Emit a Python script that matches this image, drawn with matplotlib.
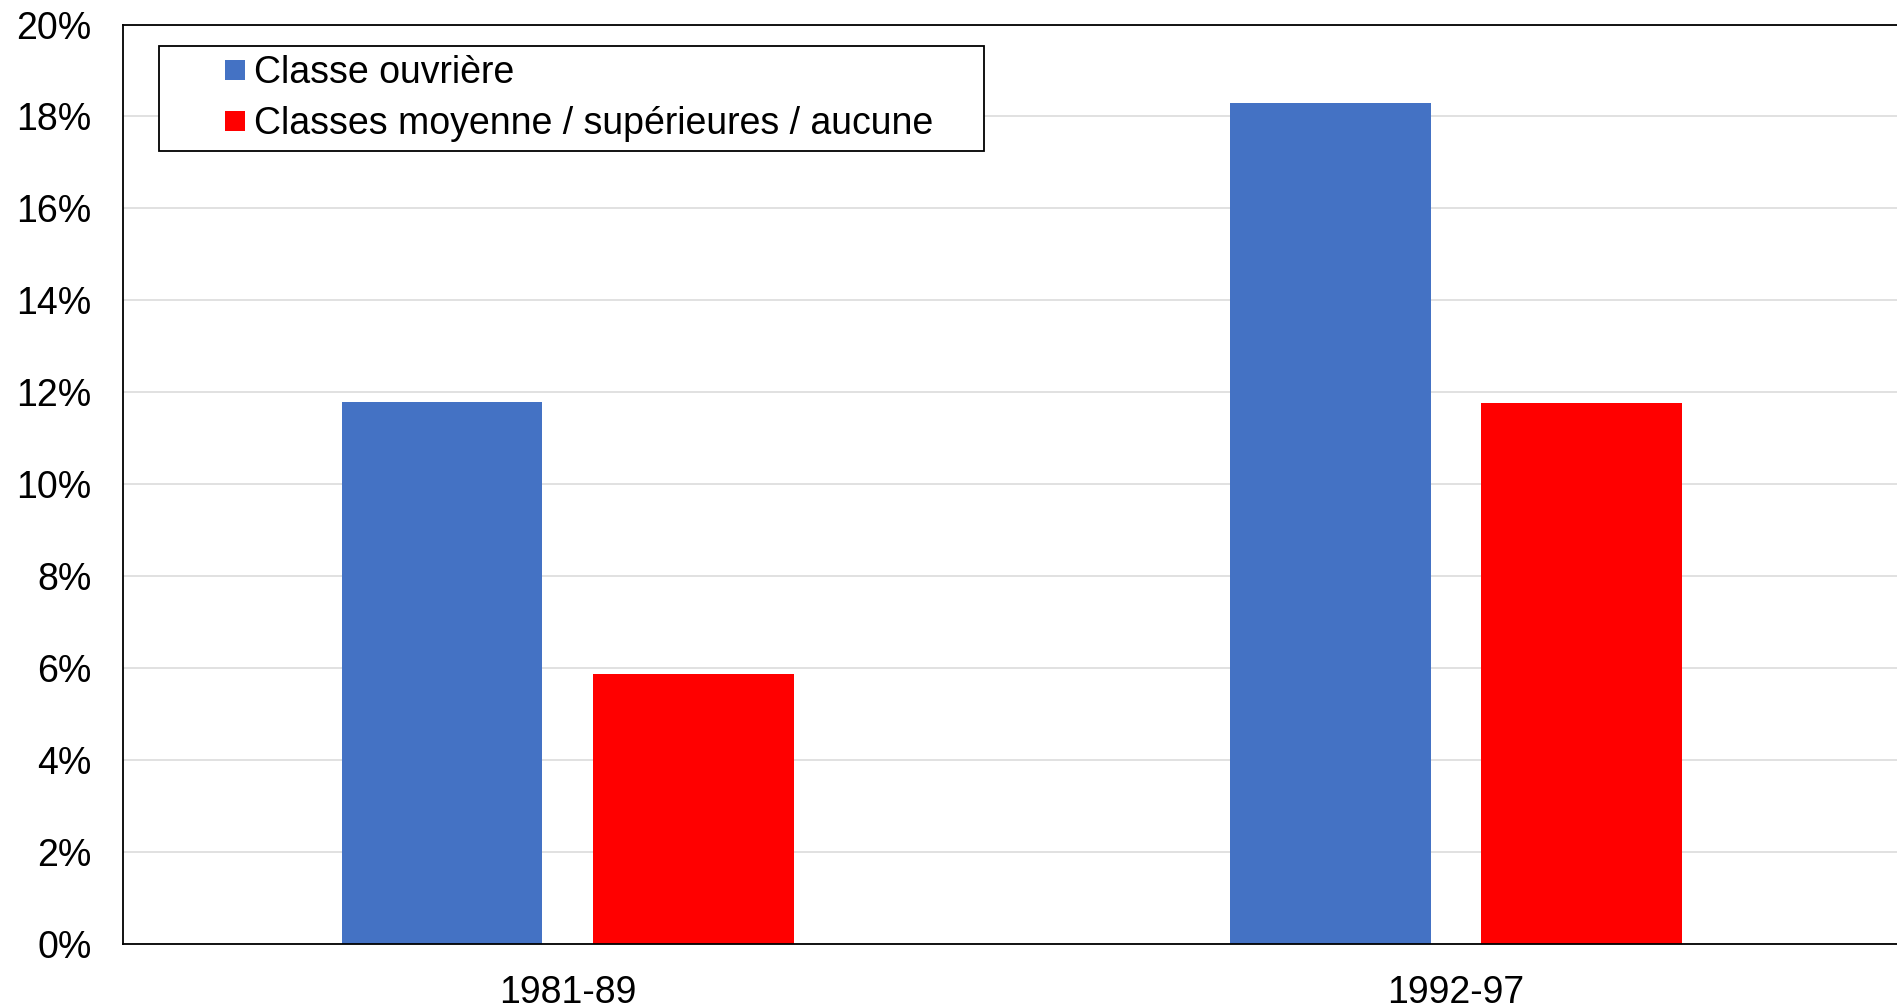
import numpy as np
import matplotlib
matplotlib.use("Agg")
import matplotlib.pyplot as plt
from matplotlib.lines import Line2D
from matplotlib.ticker import FuncFormatter

plt.rcParams['font.family'] = ['Liberation Sans', 'DejaVu Sans']

# data
periods = ['1981-89', '1992-97']
series_names = ['Classe ouvrière', 'Classes moyenne / supérieures / aucune']
ouvriere = [11.8, 18.3]
moyenne = [5.87, 11.76]
colors = ['#4472C4', '#FF0000']

fs = 27

fig = plt.figure(figsize=(18.97, 10.06), dpi=100)
ax = fig.add_axes([0.0651, 0.0616, 0.9365, 0.914])

x = np.arange(len(periods))
w = 0.226
off = 0.1415
ax.bar(x - off, ouvriere, w, color=colors[0], zorder=2)
ax.bar(x + off, moyenne, w, color=colors[1], zorder=2)

ax.set_xlim(-0.5, 1.5)
ax.set_ylim(0, 20)
ax.set_yticks(np.arange(0, 21, 2))
ax.yaxis.set_major_formatter(FuncFormatter(lambda v, p: f'{v:.0f}%'))
ax.set_xticks(x)
ax.set_xticklabels(periods)
ax.tick_params(axis='both', length=0, labelsize=fs)
ax.tick_params(axis='y', pad=23)
ax.tick_params(axis='x', pad=22)

ax.grid(axis='y', color='#D9D9D9', linewidth=1.1)
ax.set_axisbelow(True)
for side in ['left', 'bottom', 'top']:
    ax.spines[side].set_color('black')
    ax.spines[side].set_linewidth(1.3)
ax.spines['right'].set_visible(False)

# legend with square markers
handles = [Line2D([], [], linestyle='none', marker='s', markersize=14.4,
                  markerfacecolor=c, markeredgewidth=0) for c in colors]
top = 1 - 45.7 / 1006
leg = fig.legend(handles, series_names, loc='upper left', mode='expand',
                 bbox_to_anchor=(159 / 1897, top - 0.1, (983.6 - 159) / 1897, 0.1),
                 fontsize=fs, borderpad=0.25, borderaxespad=0,
                 handlelength=3.55, handletextpad=-1.27, labelspacing=0.4,
                 fancybox=False, framealpha=1, edgecolor='black')
leg.get_frame().set_linewidth(1.3)

fig.savefig('out.png', dpi=100)
